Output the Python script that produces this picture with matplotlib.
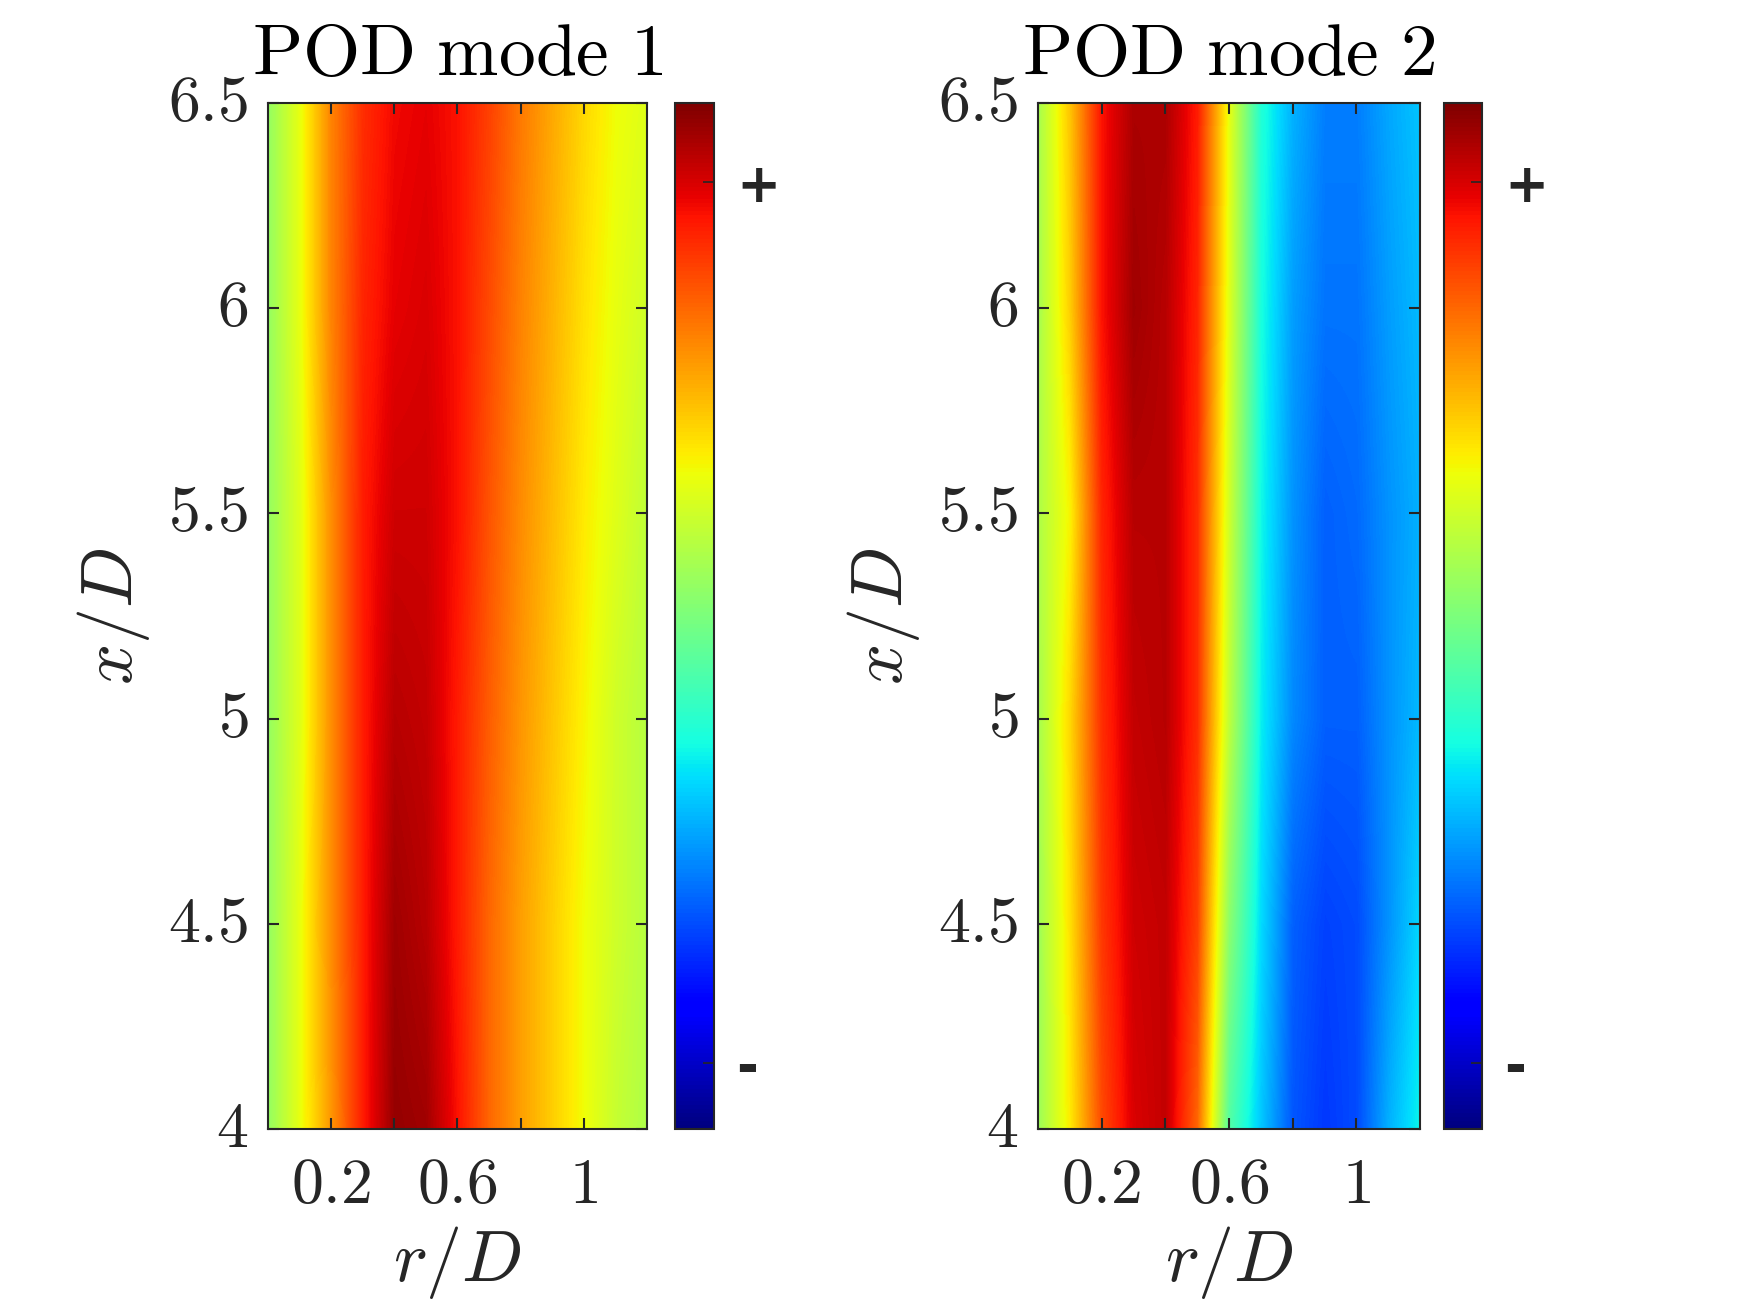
import matplotlib

matplotlib.use("Agg")
import matplotlib.pyplot as plt
import numpy as np

# radial positions (r/D) and streamwise stations (x/D) of the read-off grid
R_POS = [0.0, 0.1, 0.2, 0.3, 0.4, 0.5, 0.6, 0.7, 0.8, 0.9, 1.0, 1.1, 1.2]
X_POS = [4.0, 4.5, 5.0, 5.5, 6.0, 6.5]

# normalised mode amplitude (0 = most negative, 1 = most positive), one row per x/D
MODE1 = [
    [0.53, 0.63, 0.75, 0.88, 0.98, 0.97, 0.89, 0.80, 0.74, 0.69, 0.64, 0.59, 0.56],
    [0.53, 0.63, 0.76, 0.88, 0.97, 0.95, 0.88, 0.80, 0.74, 0.69, 0.64, 0.60, 0.57],
    [0.53, 0.62, 0.76, 0.88, 0.95, 0.94, 0.88, 0.81, 0.75, 0.70, 0.65, 0.60, 0.57],
    [0.53, 0.62, 0.76, 0.88, 0.93, 0.93, 0.89, 0.82, 0.76, 0.71, 0.66, 0.62, 0.58],
    [0.53, 0.63, 0.77, 0.87, 0.91, 0.92, 0.89, 0.83, 0.77, 0.72, 0.67, 0.63, 0.60],
    [0.53, 0.63, 0.77, 0.86, 0.90, 0.91, 0.89, 0.84, 0.78, 0.73, 0.68, 0.64, 0.62],
]
MODE2 = [
    [0.54, 0.66, 0.83, 0.92, 0.94, 0.80, 0.45, 0.32, 0.21, 0.18, 0.20, 0.30, 0.37],
    [0.54, 0.67, 0.85, 0.93, 0.94, 0.84, 0.52, 0.34, 0.22, 0.19, 0.20, 0.27, 0.34],
    [0.55, 0.68, 0.86, 0.94, 0.95, 0.86, 0.58, 0.36, 0.26, 0.22, 0.22, 0.27, 0.31],
    [0.56, 0.65, 0.87, 0.95, 0.95, 0.86, 0.60, 0.37, 0.27, 0.22, 0.23, 0.27, 0.30],
    [0.55, 0.69, 0.89, 0.97, 0.95, 0.87, 0.62, 0.38, 0.28, 0.24, 0.24, 0.28, 0.31],
    [0.55, 0.70, 0.89, 0.96, 0.96, 0.88, 0.63, 0.39, 0.30, 0.25, 0.25, 0.29, 0.32],
]
TITLES = ["POD mode 1", "POD mode 2"]

X_TICKS = [0.2, 0.4, 0.6, 0.8, 1.0]
X_TICK_LABELS = ["$0.2$", "", "$0.6$", "", "$1$"]
Y_TICKS = [4.0, 4.5, 5.0, 5.5, 6.0, 6.5]
Y_TICK_LABELS = ["$4$", "$4.5$", "$5$", "$5.5$", "$6$", "$6.5$"]
CBAR_TICKS = [0.064, 0.923]
CBAR_LABELS = ["-", "+"]

AXIS_COLOR = "#262626"

plt.rcParams["mathtext.fontset"] = "cm"
plt.rcParams["axes.linewidth"] = 1.5
plt.rcParams["axes.edgecolor"] = AXIS_COLOR

figure = plt.figure(figsize=(17.5, 13.13), dpi=100)

panels = [
    (MODE1, [0.1531, 0.1401, 0.2166, 0.7815], [0.3857, 0.1401, 0.0223, 0.7815]),
    (MODE2, [0.5931, 0.1401, 0.2183, 0.7815], [0.8251, 0.1401, 0.0217, 0.7815]),
]

# half a grid step on each side so that pixel centres sit on R_POS / X_POS
half_r = (R_POS[1] - R_POS[0]) / 2
half_x = (X_POS[1] - X_POS[0]) / 2
extent = (R_POS[0] - half_r, R_POS[-1] + half_r, X_POS[0] - half_x, X_POS[-1] + half_x)

for (values, ax_box, cb_box), title in zip(panels, TITLES):
    axis = figure.add_axes(ax_box)
    image = axis.imshow(
        np.array(values),
        origin="lower",
        extent=extent,
        aspect="auto",
        cmap="jet",
        vmin=0,
        vmax=1,
        interpolation="bilinear",
        interpolation_stage="data",
    )
    axis.set_xlim(0, 1.2)
    axis.set_ylim(4, 6.5)
    axis.set_xticks(X_TICKS)
    axis.set_xticklabels(X_TICK_LABELS)
    axis.set_yticks(Y_TICKS)
    axis.set_yticklabels(Y_TICK_LABELS, va="center")
    axis.tick_params(
        direction="in", length=8, width=1.5, top=True, right=True,
        labelsize=46, colors=AXIS_COLOR,
    )
    axis.tick_params(axis="x", pad=18)
    axis.tick_params(axis="y", pad=14)
    axis.set_xlabel("$r/D$", fontsize=52, color=AXIS_COLOR, labelpad=6)
    axis.set_ylabel("$x/D$", fontsize=52, color=AXIS_COLOR, labelpad=12)
    axis.set_title(r"$\mathrm{" + title.replace(" ", r"\ ") + "}$", fontsize=53, pad=20)

    cbar_axis = figure.add_axes(cb_box)
    colorbar = figure.colorbar(image, cax=cbar_axis)
    colorbar.set_ticks(CBAR_TICKS)
    colorbar.set_ticklabels(CBAR_LABELS)
    colorbar.outline.set_linewidth(1.5)
    colorbar.outline.set_edgecolor(AXIS_COLOR)
    cbar_axis.tick_params(direction="in", length=8, width=1.2, colors=AXIS_COLOR, pad=16)
    for label in cbar_axis.get_yticklabels():
        label.set_fontsize(38)
        label.set_fontweight("bold")
        label.set_family("DejaVu Sans")

figure.savefig("out.png", dpi=100, facecolor="white")
plt.close(figure)
